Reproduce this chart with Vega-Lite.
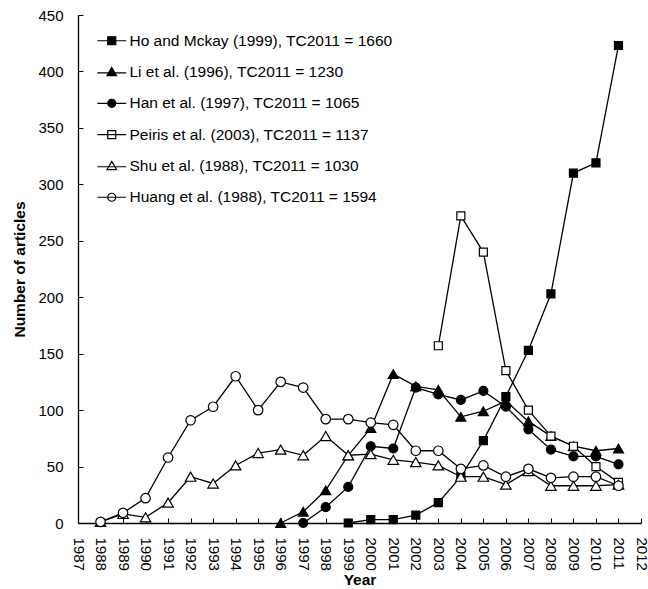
{
  "$schema": "https://vega.github.io/schema/vega-lite/v6.json",
  "width": 563,
  "height": 508,
  "autosize": {"type": "none"},
  "padding": {"left": 78, "top": 15, "right": 7, "bottom": 66},
  "background": "white",
  "config": {
    "view": {"stroke": null},
    "font": "Liberation Sans",
    "axis": {
      "domainColor": "black", "domainWidth": 1.3, "tickColor": "black", "tickWidth": 1,
      "grid": false, "labelColor": "black", "titleColor": "black",
      "labelFont": "Liberation Sans", "titleFont": "Liberation Sans",
      "labelFontSize": 15, "titleFontSize": 15.5, "titleFontWeight": "bold"
    }
  },
  "data": {"values": [
    {"s": "Ho and Mckay (1999), TC2011 = 1660", "year": 1999, "n": 0},
    {"s": "Ho and Mckay (1999), TC2011 = 1660", "year": 2000, "n": 3},
    {"s": "Ho and Mckay (1999), TC2011 = 1660", "year": 2001, "n": 3},
    {"s": "Ho and Mckay (1999), TC2011 = 1660", "year": 2002, "n": 7},
    {"s": "Ho and Mckay (1999), TC2011 = 1660", "year": 2003, "n": 18},
    {"s": "Ho and Mckay (1999), TC2011 = 1660", "year": 2004, "n": 41},
    {"s": "Ho and Mckay (1999), TC2011 = 1660", "year": 2005, "n": 73},
    {"s": "Ho and Mckay (1999), TC2011 = 1660", "year": 2006, "n": 112},
    {"s": "Ho and Mckay (1999), TC2011 = 1660", "year": 2007, "n": 153},
    {"s": "Ho and Mckay (1999), TC2011 = 1660", "year": 2008, "n": 203},
    {"s": "Ho and Mckay (1999), TC2011 = 1660", "year": 2009, "n": 310},
    {"s": "Ho and Mckay (1999), TC2011 = 1660", "year": 2010, "n": 319},
    {"s": "Ho and Mckay (1999), TC2011 = 1660", "year": 2011, "n": 423},
    {"s": "Li et al. (1996), TC2011 = 1230", "year": 1996, "n": 0},
    {"s": "Li et al. (1996), TC2011 = 1230", "year": 1997, "n": 10},
    {"s": "Li et al. (1996), TC2011 = 1230", "year": 1998, "n": 29},
    {"s": "Li et al. (1996), TC2011 = 1230", "year": 1999, "n": 60},
    {"s": "Li et al. (1996), TC2011 = 1230", "year": 2000, "n": 84},
    {"s": "Li et al. (1996), TC2011 = 1230", "year": 2001, "n": 132},
    {"s": "Li et al. (1996), TC2011 = 1230", "year": 2002, "n": 121},
    {"s": "Li et al. (1996), TC2011 = 1230", "year": 2003, "n": 118},
    {"s": "Li et al. (1996), TC2011 = 1230", "year": 2004, "n": 94},
    {"s": "Li et al. (1996), TC2011 = 1230", "year": 2005, "n": 99},
    {"s": "Li et al. (1996), TC2011 = 1230", "year": 2006, "n": 108},
    {"s": "Li et al. (1996), TC2011 = 1230", "year": 2007, "n": 90},
    {"s": "Li et al. (1996), TC2011 = 1230", "year": 2008, "n": 77},
    {"s": "Li et al. (1996), TC2011 = 1230", "year": 2009, "n": 68},
    {"s": "Li et al. (1996), TC2011 = 1230", "year": 2010, "n": 64},
    {"s": "Li et al. (1996), TC2011 = 1230", "year": 2011, "n": 66},
    {"s": "Han et al. (1997), TC2011 = 1065", "year": 1997, "n": 0},
    {"s": "Han et al. (1997), TC2011 = 1065", "year": 1998, "n": 14},
    {"s": "Han et al. (1997), TC2011 = 1065", "year": 1999, "n": 32},
    {"s": "Han et al. (1997), TC2011 = 1065", "year": 2000, "n": 68},
    {"s": "Han et al. (1997), TC2011 = 1065", "year": 2001, "n": 66},
    {"s": "Han et al. (1997), TC2011 = 1065", "year": 2002, "n": 120},
    {"s": "Han et al. (1997), TC2011 = 1065", "year": 2003, "n": 114},
    {"s": "Han et al. (1997), TC2011 = 1065", "year": 2004, "n": 109},
    {"s": "Han et al. (1997), TC2011 = 1065", "year": 2005, "n": 117},
    {"s": "Han et al. (1997), TC2011 = 1065", "year": 2006, "n": 103},
    {"s": "Han et al. (1997), TC2011 = 1065", "year": 2007, "n": 83},
    {"s": "Han et al. (1997), TC2011 = 1065", "year": 2008, "n": 65},
    {"s": "Han et al. (1997), TC2011 = 1065", "year": 2009, "n": 59},
    {"s": "Han et al. (1997), TC2011 = 1065", "year": 2010, "n": 59},
    {"s": "Han et al. (1997), TC2011 = 1065", "year": 2011, "n": 52},
    {"s": "Peiris et al. (2003), TC2011 = 1137", "year": 2003, "n": 157},
    {"s": "Peiris et al. (2003), TC2011 = 1137", "year": 2004, "n": 272},
    {"s": "Peiris et al. (2003), TC2011 = 1137", "year": 2005, "n": 240},
    {"s": "Peiris et al. (2003), TC2011 = 1137", "year": 2006, "n": 135},
    {"s": "Peiris et al. (2003), TC2011 = 1137", "year": 2007, "n": 100},
    {"s": "Peiris et al. (2003), TC2011 = 1137", "year": 2008, "n": 77},
    {"s": "Peiris et al. (2003), TC2011 = 1137", "year": 2009, "n": 68},
    {"s": "Peiris et al. (2003), TC2011 = 1137", "year": 2010, "n": 50},
    {"s": "Peiris et al. (2003), TC2011 = 1137", "year": 2011, "n": 36},
    {"s": "Shu et al. (1988), TC2011 = 1030", "year": 1988, "n": 1},
    {"s": "Shu et al. (1988), TC2011 = 1030", "year": 1989, "n": 8},
    {"s": "Shu et al. (1988), TC2011 = 1030", "year": 1990, "n": 5},
    {"s": "Shu et al. (1988), TC2011 = 1030", "year": 1991, "n": 18},
    {"s": "Shu et al. (1988), TC2011 = 1030", "year": 1992, "n": 41},
    {"s": "Shu et al. (1988), TC2011 = 1030", "year": 1993, "n": 35},
    {"s": "Shu et al. (1988), TC2011 = 1030", "year": 1994, "n": 51},
    {"s": "Shu et al. (1988), TC2011 = 1030", "year": 1995, "n": 62},
    {"s": "Shu et al. (1988), TC2011 = 1030", "year": 1996, "n": 65},
    {"s": "Shu et al. (1988), TC2011 = 1030", "year": 1997, "n": 60},
    {"s": "Shu et al. (1988), TC2011 = 1030", "year": 1998, "n": 77},
    {"s": "Shu et al. (1988), TC2011 = 1030", "year": 1999, "n": 60},
    {"s": "Shu et al. (1988), TC2011 = 1030", "year": 2000, "n": 61},
    {"s": "Shu et al. (1988), TC2011 = 1030", "year": 2001, "n": 56},
    {"s": "Shu et al. (1988), TC2011 = 1030", "year": 2002, "n": 54},
    {"s": "Shu et al. (1988), TC2011 = 1030", "year": 2003, "n": 51},
    {"s": "Shu et al. (1988), TC2011 = 1030", "year": 2004, "n": 41},
    {"s": "Shu et al. (1988), TC2011 = 1030", "year": 2005, "n": 41},
    {"s": "Shu et al. (1988), TC2011 = 1030", "year": 2006, "n": 34},
    {"s": "Shu et al. (1988), TC2011 = 1030", "year": 2007, "n": 46},
    {"s": "Shu et al. (1988), TC2011 = 1030", "year": 2008, "n": 33},
    {"s": "Shu et al. (1988), TC2011 = 1030", "year": 2009, "n": 33},
    {"s": "Shu et al. (1988), TC2011 = 1030", "year": 2010, "n": 33},
    {"s": "Shu et al. (1988), TC2011 = 1030", "year": 2011, "n": 34},
    {"s": "Huang et al. (1988), TC2011 = 1594", "year": 1988, "n": 1},
    {"s": "Huang et al. (1988), TC2011 = 1594", "year": 1989, "n": 9},
    {"s": "Huang et al. (1988), TC2011 = 1594", "year": 1990, "n": 22},
    {"s": "Huang et al. (1988), TC2011 = 1594", "year": 1991, "n": 58},
    {"s": "Huang et al. (1988), TC2011 = 1594", "year": 1992, "n": 91},
    {"s": "Huang et al. (1988), TC2011 = 1594", "year": 1993, "n": 103},
    {"s": "Huang et al. (1988), TC2011 = 1594", "year": 1994, "n": 130},
    {"s": "Huang et al. (1988), TC2011 = 1594", "year": 1995, "n": 100},
    {"s": "Huang et al. (1988), TC2011 = 1594", "year": 1996, "n": 125},
    {"s": "Huang et al. (1988), TC2011 = 1594", "year": 1997, "n": 120},
    {"s": "Huang et al. (1988), TC2011 = 1594", "year": 1998, "n": 92},
    {"s": "Huang et al. (1988), TC2011 = 1594", "year": 1999, "n": 92},
    {"s": "Huang et al. (1988), TC2011 = 1594", "year": 2000, "n": 89},
    {"s": "Huang et al. (1988), TC2011 = 1594", "year": 2001, "n": 87},
    {"s": "Huang et al. (1988), TC2011 = 1594", "year": 2002, "n": 64},
    {"s": "Huang et al. (1988), TC2011 = 1594", "year": 2003, "n": 64},
    {"s": "Huang et al. (1988), TC2011 = 1594", "year": 2004, "n": 48},
    {"s": "Huang et al. (1988), TC2011 = 1594", "year": 2005, "n": 51},
    {"s": "Huang et al. (1988), TC2011 = 1594", "year": 2006, "n": 41},
    {"s": "Huang et al. (1988), TC2011 = 1594", "year": 2007, "n": 48},
    {"s": "Huang et al. (1988), TC2011 = 1594", "year": 2008, "n": 40},
    {"s": "Huang et al. (1988), TC2011 = 1594", "year": 2009, "n": 41},
    {"s": "Huang et al. (1988), TC2011 = 1594", "year": 2010, "n": 41},
    {"s": "Huang et al. (1988), TC2011 = 1594", "year": 2011, "n": 33}
  ]},
  "encoding": {
    "x": {
      "field": "year", "type": "quantitative",
      "scale": {"domain": [1987, 2012], "nice": false, "zero": false},
      "axis": {
        "title": "Year", "format": "d", "labelAngle": 90, "labelOverlap": false, "labelFlush": false,
        "values": [1987, 1988, 1989, 1990, 1991, 1992, 1993, 1994, 1995, 1996, 1997, 1998, 1999, 2000, 2001, 2002, 2003, 2004, 2005, 2006, 2007, 2008, 2009, 2010, 2011, 2012],
        "tickSize": -5, "labelPadding": 19, "titlePadding": 2
      }
    },
    "y": {
      "field": "n", "type": "quantitative",
      "scale": {"domain": [0, 450], "nice": false},
      "axis": {
        "title": "Number of articles", "values": [0, 50, 100, 150, 200, 250, 300, 350, 400, 450],
        "tickSize": -5, "labelPadding": 20, "titlePadding": 10, "labelFlush": false
      }
    }
  },
  "resolve": {
    "scale": {"shape": "independent", "fill": "independent", "size": "independent"},
    "legend": {"shape": "independent", "fill": "independent", "size": "independent"}
  },
  "layer": [
    {
      "mark": {"type": "line", "color": "black", "strokeWidth": 1.3},
      "encoding": {"detail": {"field": "s", "type": "nominal"}}
    },
    {
      "mark": {"type": "point", "filled": true, "stroke": "black", "strokeWidth": 1.2, "opacity": 1},
      "encoding": {
        "shape": {
          "field": "s", "type": "nominal", "legend": null,
          "scale": {
            "domain": ["Ho and Mckay (1999), TC2011 = 1660", "Li et al. (1996), TC2011 = 1230", "Han et al. (1997), TC2011 = 1065", "Peiris et al. (2003), TC2011 = 1137", "Shu et al. (1988), TC2011 = 1030", "Huang et al. (1988), TC2011 = 1594"],
            "range": ["square", "triangle-up", "circle", "square", "triangle-up", "circle"]
          }
        },
        "fill": {
          "field": "s", "type": "nominal", "legend": null,
          "scale": {
            "domain": ["Ho and Mckay (1999), TC2011 = 1660", "Li et al. (1996), TC2011 = 1230", "Han et al. (1997), TC2011 = 1065", "Peiris et al. (2003), TC2011 = 1137", "Shu et al. (1988), TC2011 = 1030", "Huang et al. (1988), TC2011 = 1594"],
            "range": ["black", "black", "black", "white", "white", "white"]
          }
        },
        "size": {
          "field": "s", "type": "ordinal", "legend": null,
          "scale": {
            "type": "ordinal",
            "domain": ["Huang et al. (1988), TC2011 = 1594", "Shu et al. (1988), TC2011 = 1030", "Peiris et al. (2003), TC2011 = 1137", "Han et al. (1997), TC2011 = 1065", "Li et al. (1996), TC2011 = 1230", "Ho and Mckay (1999), TC2011 = 1660"],
            "range": [90, 110, 64, 81, 100, 64]
          }
        }
      }
    },
    {
      "transform": [{"filter": "datum.n < 0"}],
      "mark": {"type": "point", "filled": true, "stroke": "black", "strokeWidth": 1.2, "opacity": 1, "size": 64},
      "encoding": {
        "shape": {
          "field": "s", "type": "nominal",
          "scale": {
            "domain": ["Ho and Mckay (1999), TC2011 = 1660", "Li et al. (1996), TC2011 = 1230", "Han et al. (1997), TC2011 = 1065", "Peiris et al. (2003), TC2011 = 1137", "Shu et al. (1988), TC2011 = 1030", "Huang et al. (1988), TC2011 = 1594"],
            "range": ["M-3.6,0H3.6M-1,-1H1V1H-1Z", "M-3.6,0.2H3.6M0,-1.15L1.2,0.9H-1.2Z", "M-3.6,0H3.6M1,0A1,1,0,1,1,-1,0A1,1,0,1,1,1,0Z", "M-3.6,0H3.6M-1,-1H1V1H-1Z", "M-3.6,0.2H3.6M0,-1.15L1.2,0.9H-1.2Z", "M-3.6,0H3.6M1,0A1,1,0,1,1,-1,0A1,1,0,1,1,1,0Z"]
          },
          "legend": {
            "title": null, "orient": "none", "legendX": 26, "legendY": 18, "padding": 0,
            "symbolSize": 64, "symbolStrokeWidth": 1.2,
            "labelFont": "Liberation Sans", "labelFontSize": 15.5, "labelColor": "black", "labelLimit": 500,
            "rowPadding": 14.3, "labelOffset": 10, "symbolOffset": 0
          }
        },
        "fill": {
          "field": "s", "type": "nominal",
          "scale": {
            "domain": ["Ho and Mckay (1999), TC2011 = 1660", "Li et al. (1996), TC2011 = 1230", "Han et al. (1997), TC2011 = 1065", "Peiris et al. (2003), TC2011 = 1137", "Shu et al. (1988), TC2011 = 1030", "Huang et al. (1988), TC2011 = 1594"],
            "range": ["black", "black", "black", "white", "white", "white"]
          },
          "legend": {
            "title": null, "orient": "none", "legendX": 26, "legendY": 18, "padding": 0,
            "symbolSize": 64, "symbolStrokeWidth": 1.2,
            "labelFont": "Liberation Sans", "labelFontSize": 15.5, "labelColor": "black", "labelLimit": 500,
            "rowPadding": 14.3, "labelOffset": 10, "symbolOffset": 0
          }
        }
      }
    }
  ]
}
